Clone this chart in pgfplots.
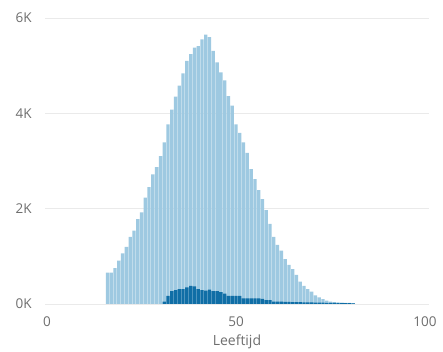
\documentclass[border=0pt]{standalone}
\usepackage{fontspec}
\setmainfont{Open Sans}
\usepackage{pgfplots}
\pgfplotsset{compat=1.18}
\definecolor{lightbar}{RGB}{158,201,225}
\definecolor{darkbar}{RGB}{16,110,166}
\definecolor{gridgray}{RGB}{234,234,234}
\definecolor{labelgray}{RGB}{110,110,110}
\begin{document}
\begin{tikzpicture}
\begin{axis}[
  at={(0,0)}, anchor=south west,
  scale only axis,
  width=383.7pt, height=286pt,
  xmin=-0.5, xmax=101,
  ymin=0, ymax=6000,
  axis line style={draw=none},
  tick style={draw=none},
  xtick={0,50,100},
  xticklabels={0,50,100},
  ytick={0,2000,4000,6000},
  yticklabels={0K,2K,4K,6K},
  ymajorgrids,
  grid style={gridgray, line width=0.8pt},
  tick label style={font=\fontsize{13.5}{15}\selectfont, text=labelgray},
  yticklabel style={anchor=east, xshift=-10pt},
  xticklabel style={yshift=-9pt},
  xlabel={Leeftijd},
  xlabel style={font=\fontsize{14}{16}\selectfont, text=labelgray, yshift=-1pt},
  clip=false,
]
% all ages
\addplot[ybar, bar shift=0pt, bar width=0.87, fill=lightbar, draw=none] coordinates {
(16,660) (17,660) (18,750) (19,910) (20,1060) (21,1200) (22,1410) (23,1540)
(24,1780) (25,1920) (26,2230) (27,2450) (28,2720) (29,2870) (30,3100) (31,3390)
(32,3770) (33,4080) (34,4350) (35,4580) (36,4840) (37,5100) (38,5240) (39,5380)
(40,5410) (41,5550) (42,5650) (43,5600) (44,5310) (45,5070) (46,4860) (47,4690)
(48,4360) (49,4160) (50,3770) (51,3590) (52,3390) (53,3170) (54,2830) (55,2620)
(56,2390) (57,2200) (58,1970) (59,1680) (60,1410) (61,1240) (62,1120) (63,940)
(64,820) (65,730) (66,610) (67,470) (68,380) (69,310) (70,260) (71,180)
(72,140) (73,100) (74,70) (75,50) (76,40) (77,35) (78,30) (79,25) (80,22) (81,18)
};
% subgroup
\addplot[ybar, bar shift=0pt, bar width=0.87, fill=darkbar, draw=none] coordinates {
(31,50) (32,170) (33,270) (34,290) (35,310) (36,310) (37,350) (38,380)
(39,370) (40,310) (41,290) (42,280) (43,300) (44,270) (45,270) (46,250)
(47,220) (48,170) (49,170) (50,170) (51,170) (52,120) (53,120) (54,120)
(55,120) (56,120) (57,110) (58,80) (59,80) (60,50) (61,50) (62,50)
(63,45) (64,45) (65,40) (66,40) (67,40) (68,35) (69,35) (70,35)
(71,30) (72,30) (73,30) (74,25) (75,25) (76,25) (77,20) (78,20) (79,20) (80,20) (81,15)
};
\end{axis}
\pgfresetboundingbox
\path[use as bounding box] (-45.1pt,-48pt) rectangle (397.9pt,304pt);
\end{tikzpicture}
\end{document}
